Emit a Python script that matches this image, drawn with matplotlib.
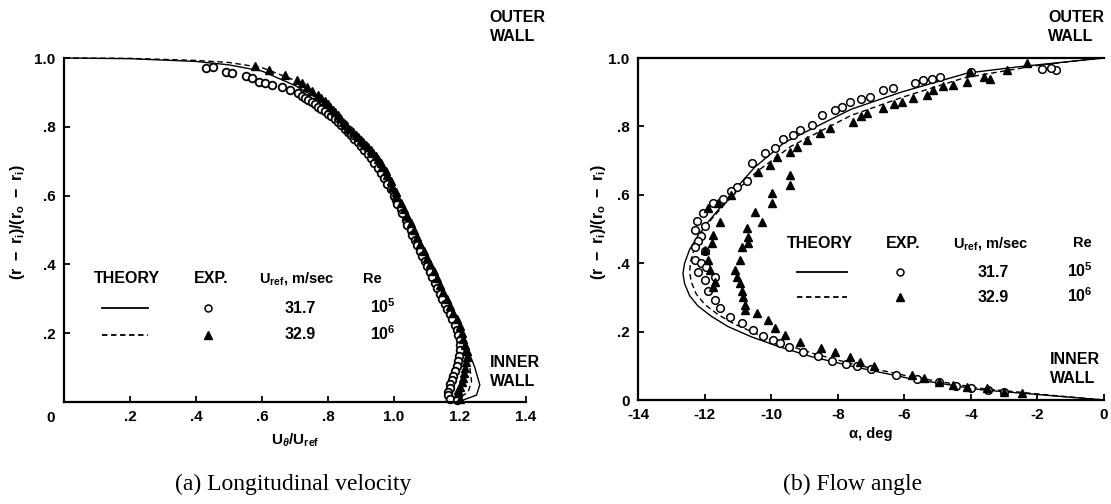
import matplotlib
matplotlib.use('Agg')
import matplotlib.pyplot as plt

plt.rcParams['font.family'] = ['Liberation Sans', 'DejaVu Sans']
plt.rcParams['font.weight'] = 'bold'
plt.rcParams['mathtext.fontset'] = 'custom'
plt.rcParams['mathtext.rm'] = 'Liberation Sans:bold'
plt.rcParams['mathtext.it'] = 'Liberation Sans:italic:bold'
plt.rcParams['mathtext.default'] = 'rm'

# ---- (a) longitudinal velocity ----
theory_a1_u = [0.0, 0.2, 0.4, 0.5, 0.6, 0.7, 0.8, 0.9, 1.0, 1.05, 1.1, 1.15, 1.19, 1.2,
               1.225, 1.245, 1.26, 1.25, 1.21, 1.15, 0.5, 0.0]
theory_a1_y = [1.0, 0.998, 0.99, 0.98, 0.962, 0.92, 0.865, 0.76, 0.6, 0.5, 0.4, 0.3, 0.22, 0.2,
               0.15, 0.1, 0.05, 0.02, 0.006, 0.0, 0.0, 0.0]
theory_a2_u = [0.0, 0.2, 0.4, 0.5, 0.6, 0.7, 0.8, 0.9, 1.0, 1.05, 1.1, 1.15, 1.19, 1.2,
               1.215, 1.23, 1.235, 1.225, 1.2, 1.15, 0.5, 0.0]
theory_a2_y = [1.0, 0.999, 0.993, 0.987, 0.972, 0.935, 0.872, 0.77, 0.61, 0.51, 0.41, 0.31, 0.225, 0.2,
               0.15, 0.1, 0.06, 0.03, 0.012, 0.0, 0.0, 0.0]

circ_a_u = [0.43, 0.45, 0.49, 0.51, 0.55, 0.57, 0.59, 0.61, 0.63, 0.66, 0.685, 0.71, 0.72, 0.73,
            0.74, 0.75, 0.76, 0.77, 0.78, 0.79, 0.80, 0.81, 0.82, 0.83, 0.84, 0.85, 0.86, 0.87,
            0.88, 0.89, 0.90, 0.91, 0.92, 0.93, 0.94, 0.95, 0.96, 0.97, 0.98, 0.99, 1.0, 1.005,
            1.01, 1.02, 1.025, 1.035, 1.04, 1.05, 1.055, 1.065, 1.07, 1.08, 1.085, 1.095, 1.10,
            1.11, 1.115, 1.125, 1.13, 1.14, 1.145, 1.155, 1.16, 1.17, 1.175, 1.185, 1.19, 1.195,
            1.2, 1.2, 1.2, 1.198, 1.195, 1.19, 1.185, 1.18, 1.175, 1.17, 1.17, 1.165, 1.165,
            1.17, 1.19]
circ_a_y = [0.971, 0.975, 0.959, 0.956, 0.948, 0.942, 0.93, 0.927, 0.921, 0.916, 0.907, 0.898,
            0.89, 0.885, 0.878, 0.872, 0.865, 0.858, 0.851, 0.845, 0.838, 0.83, 0.822, 0.815,
            0.805, 0.795, 0.785, 0.775, 0.765, 0.755, 0.744, 0.732, 0.72, 0.708, 0.694, 0.68,
            0.665, 0.65, 0.635, 0.618, 0.6, 0.588, 0.575, 0.56, 0.55, 0.53, 0.515, 0.5, 0.485,
            0.47, 0.455, 0.44, 0.425, 0.41, 0.395, 0.378, 0.362, 0.346, 0.33, 0.315, 0.3, 0.285,
            0.27, 0.255, 0.24, 0.225, 0.21, 0.195, 0.18, 0.165, 0.15, 0.135, 0.12, 0.105, 0.09,
            0.077, 0.065, 0.052, 0.04, 0.028, 0.02, 0.008, 0.005]

tri_a_u = [0.58, 0.62, 0.67, 0.705, 0.72, 0.735, 0.75, 0.77, 0.78, 0.79, 0.8, 0.805, 0.815,
           0.82, 0.83, 0.835, 0.845, 0.855, 0.865, 0.875, 0.885, 0.89, 0.9, 0.905, 0.915, 0.92,
           0.93, 0.935, 0.945, 0.95, 0.96, 0.965, 0.975, 0.98, 0.99, 0.995, 1.005, 1.01, 1.02,
           1.03, 1.04, 1.05, 1.06, 1.07, 1.08, 1.09, 1.1, 1.11, 1.12, 1.13, 1.14, 1.15, 1.16,
           1.17, 1.18, 1.19, 1.2, 1.205, 1.21, 1.215, 1.22, 1.22, 1.218, 1.215, 1.212, 1.21,
           1.205, 1.2, 1.195, 1.195, 1.2]
tri_a_y = [0.977, 0.965, 0.95, 0.936, 0.927, 0.916, 0.905, 0.892, 0.884, 0.875, 0.866, 0.858,
           0.85, 0.842, 0.834, 0.826, 0.815, 0.805, 0.795, 0.785, 0.777, 0.77, 0.762, 0.756,
           0.748, 0.74, 0.732, 0.724, 0.714, 0.705, 0.694, 0.683, 0.672, 0.66, 0.642, 0.625,
           0.61, 0.595, 0.578, 0.56, 0.54, 0.52, 0.5, 0.48, 0.46, 0.44, 0.42, 0.4, 0.38, 0.36,
           0.34, 0.32, 0.3, 0.28, 0.26, 0.24, 0.22, 0.2, 0.182, 0.165, 0.148, 0.13, 0.115, 0.1,
           0.085, 0.07, 0.057, 0.045, 0.035, 0.025, 0.01]

# ---- (b) flow angle ----
theory_b1_a = [0.0, -0.6, -1.5, -2.6, -4.1, -6.1, -7.6, -9.6, -10.5, -11.0, -11.5, -11.9, -12.2,
               -12.45, -12.6, -12.65, -12.6, -12.45, -12.2, -11.8, -11.3, -10.6, -9.8, -8.8,
               -7.5, -5.8, -3.7, -1.5, 0.0]
theory_b1_y = [1.0, 0.994, 0.985, 0.974, 0.956, 0.9, 0.85, 0.753, 0.68, 0.625, 0.566, 0.52, 0.48,
               0.44, 0.4, 0.37, 0.34, 0.305, 0.275, 0.245, 0.215, 0.185, 0.157, 0.127, 0.097,
               0.062, 0.03, 0.012, 0.0]
theory_b2_a = [0.0, -1.0, -2.0, -3.0, -4.2, -6.0, -7.6, -9.4, -10.4, -10.9, -11.4, -11.8, -12.1,
               -12.3, -12.42, -12.45, -12.4, -12.25, -12.0, -11.6, -11.1, -10.4, -9.6, -8.7,
               -7.5, -5.8, -3.7, -1.5, 0.0]
theory_b2_y = [1.0, 0.99, 0.978, 0.962, 0.942, 0.887, 0.832, 0.742, 0.67, 0.625, 0.572, 0.528,
               0.485, 0.445, 0.405, 0.375, 0.345, 0.31, 0.28, 0.25, 0.222, 0.192, 0.163, 0.135,
               0.104, 0.068, 0.034, 0.013, 0.0]

circ_b_a = [-1.45, -1.6, -1.85, -4.0, -4.93, -5.17, -5.44, -5.68, -6.34, -6.64, -7.03, -7.3,
            -7.63, -7.87, -8.08, -8.47, -8.77, -9.14, -9.35, -9.65, -9.89, -10.19, -10.58,
            -10.73, -11.03, -11.2, -11.45, -11.75, -12.05, -12.23, -12.0, -12.29, -12.1, -12.2,
            -12.3, -12.0, -12.29, -12.1, -11.95, -12.2, -11.69, -12.0, -11.9, -11.69, -11.54,
            -11.24, -10.88, -10.55, -10.25, -9.95, -9.74, -9.46, -9.03, -8.6, -8.18, -7.75,
            -7.43, -7.0, -6.25, -5.61, -4.97, -4.44, -4.01, -3.48, -3.0]
circ_b_y = [0.965, 0.972, 0.968, 0.958, 0.945, 0.94, 0.935, 0.927, 0.912, 0.906, 0.886, 0.88,
            0.871, 0.857, 0.848, 0.833, 0.804, 0.789, 0.775, 0.764, 0.737, 0.722, 0.693, 0.64,
            0.623, 0.61, 0.588, 0.576, 0.547, 0.522, 0.51, 0.497, 0.48, 0.465, 0.447, 0.435,
            0.41, 0.4, 0.39, 0.375, 0.36, 0.35, 0.32, 0.292, 0.27, 0.243, 0.225, 0.205, 0.187,
            0.175, 0.167, 0.155, 0.14, 0.128, 0.115, 0.106, 0.1, 0.09, 0.072, 0.062, 0.052,
            0.042, 0.036, 0.03, 0.022]

tri_b_a = [-2.3, -2.92, -3.43, -3.6, -4.03, -4.12, -4.54, -4.84, -5.14, -5.32, -5.74, -6.07,
           -6.3, -6.64, -7.12, -7.3, -7.54, -8.23, -8.53, -8.92, -9.23, -9.44, -9.83, -10.04,
           -10.4, -9.44, -9.44, -9.98, -9.98, -10.49, -10.28, -10.73, -10.7, -10.7, -10.88,
           -10.94, -11.09, -11.03, -10.94, -10.88, -10.85, -10.79, -10.79, -10.43, -10.1, -9.89,
           -9.57, -9.14, -8.5, -8.07, -7.64, -7.32, -6.9, -5.77, -5.4, -4.97, -4.54, -4.12,
           -3.53, -3.0, -2.46, -11.54, -11.75, -11.78, -11.9, -11.75, -12.0, -11.85, -11.7,
           -11.9, -11.6, -11.2]
tri_b_y = [0.985, 0.965, 0.94, 0.945, 0.958, 0.93, 0.921, 0.918, 0.906, 0.892, 0.883, 0.871,
           0.865, 0.854, 0.839, 0.83, 0.813, 0.795, 0.781, 0.76, 0.74, 0.725, 0.711, 0.687,
           0.667, 0.658, 0.629, 0.605, 0.576, 0.55, 0.52, 0.503, 0.477, 0.459, 0.447, 0.41,
           0.38, 0.36, 0.342, 0.32, 0.3, 0.278, 0.263, 0.254, 0.234, 0.21, 0.19, 0.171, 0.151,
           0.141, 0.127, 0.112, 0.098, 0.073, 0.063, 0.054, 0.044, 0.039, 0.034, 0.024, 0.02,
           0.52, 0.482, 0.46, 0.41, 0.33, 0.44, 0.38, 0.345, 0.56, 0.575, 0.6]

xt_a = [0.2, 0.4, 0.6, 0.8, 1.0, 1.2, 1.4]
xt_a_lab = ['.2', '.4', '.6', '.8', '1.0', '1.2', '1.4']
yt_a = [0.2, 0.4, 0.6, 0.8, 1.0]
yt_a_lab = ['.2', '.4', '.6', '.8', '1.0']
xt_b = [-14, -12, -10, -8, -6, -4, -2, 0]
xt_b_lab = ['-14', '-12', '-10', '-8', '-6', '-4', '-2', '0']
yt_b = [0, 0.2, 0.4, 0.6, 0.8, 1.0]
yt_b_lab = ['0', '.2', '.4', '.6', '.8', '1.0']

ylab = r'$(r\ -\ r_i)/(r_o\ -\ r_i)$'

fig = plt.figure(figsize=(11.11, 5.04), dpi=100)
axa = fig.add_axes([64/1111, 102/504, 462/1111, 344/504])
axb = fig.add_axes([638/1111, 104/504, 466/1111, 342/504])

mk = dict(linestyle='none', ms=5.5, clip_on=False)

def style(ax):
    for s in ['left', 'bottom', 'top']:
        ax.spines[s].set_linewidth(1.6)
    ax.spines['right'].set_visible(False)
    ax.tick_params(direction='in', length=4, width=1.3, pad=6, labelsize=11)

# (a)
axa.plot(theory_a1_u, theory_a1_y, color='black', lw=1.0, clip_on=False)
axa.plot(theory_a2_u, theory_a2_y, color='black', lw=1.0, ls=(0, (4, 2.5)), clip_on=False)
axa.plot(circ_a_u, circ_a_y, marker='o', mfc='white', mec='black', mew=1.3, **mk)
axa.plot(tri_a_u, tri_a_y, marker='^', color='black', **mk)
axa.set_xlim(0, 1.4)
axa.set_ylim(0, 1.0)
style(axa)
axa.spines['top'].set_visible(False)
axa.set_xticks(xt_a, xt_a_lab)
axa.set_yticks(yt_a, yt_a_lab)
axa.text(-0.03, -0.047, '0', transform=axa.transAxes, ha='center', va='center', fontsize=11)
axa.text(0.5, -0.11, r'$U_{\mathit{\theta}}/U_{ref}$', transform=axa.transAxes,
         ha='center', va='center', fontsize=11)

# legend table (a)
fs = 11.5
axa.text(0.192, 0.359, 'THEORY', ha='center', va='center', fontsize=fs)
axa.text(0.445, 0.359, 'EXP.', ha='center', va='center', fontsize=fs)
axa.text(0.706, 0.359, r'$U_{ref}$, m/sec', ha='center', va='center', fontsize=10.5)
axa.text(0.933, 0.359, 'Re', ha='center', va='center', fontsize=10.5)
axa.plot([0.115, 0.255], [0.273, 0.273], color='black', lw=1.3)
axa.plot([0.115, 0.255], [0.195, 0.195], color='black', lw=1.3, ls=(0, (3, 2)))
axa.plot([0.435], [0.273], marker='o', mfc='white', mec='black', mew=1.1, ms=5, ls='none')
axa.plot([0.435], [0.195], marker='^', color='black', ms=6, ls='none')
axa.text(0.715, 0.273, '31.7', ha='center', va='center', fontsize=fs)
axa.text(0.715, 0.195, '32.9', ha='center', va='center', fontsize=fs)
axa.text(0.967, 0.276, r'$10^5$', ha='center', va='center', fontsize=fs)
axa.text(0.967, 0.198, r'$10^6$', ha='center', va='center', fontsize=fs)
axa.text(1.29, 1.14, 'OUTER\nWALL', ha='left', va='top', fontsize=11.5, linespacing=1.35)
axa.text(1.29, 0.137, 'INNER\nWALL', ha='left', va='top', fontsize=11.5, linespacing=1.35)

# (b)
axb.plot(theory_b1_a, theory_b1_y, color='black', lw=1.0, clip_on=False)
axb.plot(theory_b2_a, theory_b2_y, color='black', lw=1.0, ls=(0, (4, 2.5)), clip_on=False)
axb.plot(circ_b_a, circ_b_y, marker='o', mfc='white', mec='black', mew=1.1, **mk)
axb.plot(tri_b_a, tri_b_y, marker='^', color='black', **mk)
axb.set_xlim(-14, 0)
axb.set_ylim(0, 1.0)
style(axb)
axb.set_xticks(xt_b, xt_b_lab)
axb.set_yticks(yt_b, yt_b_lab)
axb.text(0.5, -0.10, 'α, deg', transform=axb.transAxes, ha='center', va='center', fontsize=10.5)

axb.text(-8.53, 0.459, 'THEORY', ha='center', va='center', fontsize=fs)
axb.text(-6.04, 0.459, 'EXP.', ha='center', va='center', fontsize=fs)
axb.text(-3.4, 0.459, r'$U_{ref}$, m/sec', ha='center', va='center', fontsize=10.5)
axb.text(-0.66, 0.459, 'Re', ha='center', va='center', fontsize=10.5)
axb.plot([-9.22, -7.72], [0.374, 0.374], color='black', lw=1.3)
axb.plot([-9.22, -7.72], [0.301, 0.301], color='black', lw=1.3, ls=(0, (3, 2)))
axb.plot([-6.13], [0.374], marker='o', mfc='white', mec='black', mew=1.1, ms=5, ls='none')
axb.plot([-6.13], [0.301], marker='^', color='black', ms=6, ls='none')
axb.text(-3.34, 0.374, '31.7', ha='center', va='center', fontsize=fs)
axb.text(-3.34, 0.301, '32.9', ha='center', va='center', fontsize=fs)
axb.text(-0.72, 0.377, r'$10^5$', ha='center', va='center', fontsize=fs)
axb.text(-0.72, 0.304, r'$10^6$', ha='center', va='center', fontsize=fs)
axb.text(-1.68, 1.14, 'OUTER\nWALL', ha='left', va='top', fontsize=11.5, linespacing=1.35,
         clip_on=False)
axb.text(-1.62, 0.14, 'INNER\nWALL', ha='left', va='top', fontsize=11.5, linespacing=1.35)

fig.text(18/1111, 1 - 222/504, ylab, rotation=90, ha='center', va='center', fontsize=11.5)
fig.text(598/1111, 1 - 222/504, ylab, rotation=90, ha='center', va='center', fontsize=11.5)

fig.text(293/1111, 1 - 484/504, '(a) Longitudinal velocity', ha='center', va='center',
         fontsize=17, family='Liberation Serif', weight='normal')
fig.text(853/1111, 1 - 484/504, '(b) Flow angle', ha='center', va='center',
         fontsize=17, family='Liberation Serif', weight='normal')

fig.savefig('out.png', dpi=100)
